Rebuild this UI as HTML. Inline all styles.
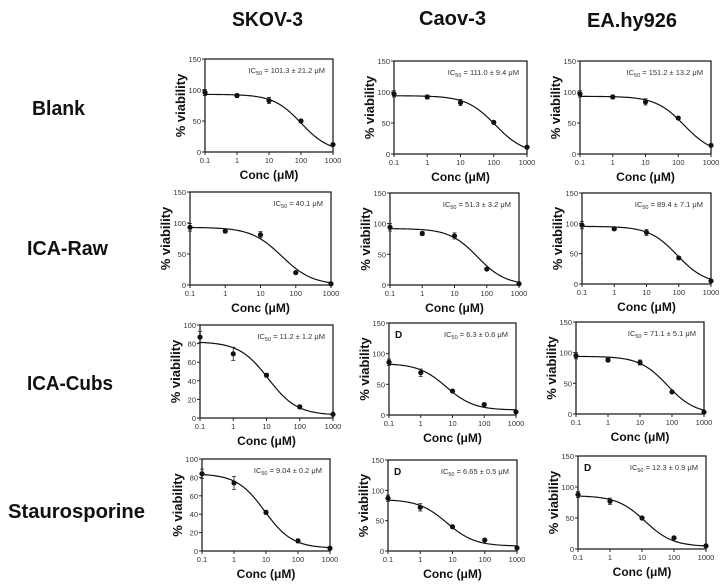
<!DOCTYPE html>
<html><head><meta charset="utf-8"><style>
body{margin:0;background:#fff;width:726px;height:585px;overflow:hidden;font-family:"Liberation Sans",sans-serif}
svg{display:block}
</style></head><body>
<svg id="fig" width="726" height="585" xmlns="http://www.w3.org/2000/svg" font-family="Liberation Sans, sans-serif">
<g font-size="20" font-weight="bold" fill="#111">
<text x="232" y="26" textLength="71" lengthAdjust="spacingAndGlyphs">SKOV-3</text>
<text x="419" y="25" textLength="67" lengthAdjust="spacingAndGlyphs">Caov-3</text>
<text x="587" y="27" textLength="90" lengthAdjust="spacingAndGlyphs">EA.hy926</text>
</g>
<g font-size="20" font-weight="bold" fill="#111">
<text x="32" y="115" textLength="53" lengthAdjust="spacingAndGlyphs">Blank</text>
<text x="27" y="255" textLength="81" lengthAdjust="spacingAndGlyphs">ICA-Raw</text>
<text x="27" y="390" textLength="86" lengthAdjust="spacingAndGlyphs">ICA-Cubs</text>
<text x="8" y="518" textLength="137" lengthAdjust="spacingAndGlyphs">Staurosporine</text>
</g>
<g id="panels"></g>
</svg>
<script>
// Data per panel (row-major: Blank, ICA-Raw, ICA-Cubs, Staurosporine x SKOV-3, Caov-3, EA.hy926)
const concentrations = [0.1, 1, 10, 100, 1000];
const xTickLabels = ["0.1", "1", "10", "100", "1000"];
const viability = [
  [96, 91, 83, 50, 12], [97, 92, 83, 51, 11], [97, 92, 84, 58, 14],
  [93, 87, 81, 20, 2],  [94, 84, 80, 26, 2],  [97, 91, 85, 43, 5],
  [87, 69, 46, 12, 4],  [86, 69, 39, 17, 5],  [95, 88, 84, 36, 3],
  [84, 74, 42, 11, 3],  [87, 72, 40, 18, 5],  [88, 77, 50, 18, 5]
];
const errors = [
  [5, 3, 5, 2, 2], [5, 3, 5, 2, 2], [5, 3, 5, 2, 2],
  [6, 3, 5, 2, 2], [6, 3, 5, 2, 2], [6, 3, 5, 2, 2],
  [6, 7, 2, 2, 1], [5, 6, 2, 2, 1], [5, 3, 4, 2, 1],
  [5, 7, 2, 2, 1], [5, 6, 2, 2, 1], [5, 5, 2, 2, 1]
];
const fitTop = [93, 94, 93, 93, 92, 95, 82, 84, 94, 84, 85, 86];
const fitBottom = [0, 0, 0, 0, 0, 0, 3, 8, 0, 3, 8, 4];
const fitIC50 = [101.3, 111.0, 151.2, 40.1, 51.3, 89.4, 11.2, 6.3, 71.1, 9.04, 6.65, 12.3];
const yMax = [150, 150, 150, 150, 150, 150, 100, 150, 150, 100, 150, 150];
const ic50Labels = ["101.3 ± 21.2  μM", "111.0 ± 9.4 μM", "151.2 ± 13.2  μM",
  "40.1 μM", "51.3 ± 3.2 μM", "89.4 ± 7.1 μM",
  "11.2 ± 1.2 μM", "6.3 ± 0.6 μM", "71.1 ± 5.1 μM",
  "9.04 ± 0.2 μM", "6.65 ± 0.5 μM", "12.3 ± 0.9 μM"];
const panelLetters = ["", "", "", "", "", "", "", "D", "", "", "D", "D"];
// layout boxes [x0,x1,y0,y1]
const boxes = [
  [205,333,59,152],[394,527,61,154],[580,711,61,154],
  [190,331,192,285],[390,519,193,285],[582,711,193,284],
  [200,333,325,418],[389,516,323,415],[576,704,322,414],
  [202,330,459,551],[388,517,460,551],[578,706,456,549]
];
const NS = "http://www.w3.org/2000/svg";
const root = document.getElementById('panels');
function mk(tag, attrs, parent){const e=document.createElementNS(NS,tag);for(const k in attrs)e.setAttribute(k,attrs[k]);parent.appendChild(e);return e;}
boxes.forEach((b, i) => {
  const [x0,x1,y0,y1] = b;
  const g = mk('g', {}, root);
  
  
  const xs = v => x0 + (Math.log10(v) + 1) / 4 * (x1 - x0);
  const ys = v => y1 - v / yMax[i] * (y1 - y0);
  const frame = mk('rect', {x:x0, y:y0, width:x1-x0, height:y1-y0, fill:'none', stroke:'#222', 'stroke-width':1.3}, g);
  
  
  const step = yMax[i] === 100 ? 20 : 50;
  for (let t = 0; t <= yMax[i]; t += step) {
    mk('line', {x1:x0-3, x2:x0, y1:ys(t), y2:ys(t), stroke:'#222'}, g);
    const tl = mk('text', {x:x0-4, y:ys(t)+3, 'font-size':7.5, 'text-anchor':'end', fill:'#333'}, g);
    tl.textContent = t;
    
    
  }
  concentrations.forEach((c, k) => {
    mk('line', {x1:xs(c), x2:xs(c), y1:y1, y2:y1+3, stroke:'#222'}, g);
    const tl = mk('text', {x:xs(c), y:y1+11, 'font-size':7.5, 'text-anchor':'middle', fill:'#333'}, g);
    tl.textContent = xTickLabels[k];
    
    
  });
  const xt = mk('text', {x:(x0+x1)/2, y:y1+27, 'font-size':12, 'font-weight':'bold', 'text-anchor':'middle', fill:'#111'}, g);
  xt.textContent = 'Conc (μM)';
  
  
  const cy = (y0+y1)/2, cx = x0 - 20;
  const yt = mk('text', {x:cx, y:cy, 'font-size':13, 'font-weight':'bold', 'text-anchor':'middle', fill:'#111', transform:`rotate(-90 ${cx} ${cy})`}, g);
  yt.textContent = '% viability';
  
  
  let d = '';
  for (let s = 0; s <= 80; s++) {
    const lx = -1 + 4 * s / 80, c = Math.pow(10, lx);
    const v = fitBottom[i] + (fitTop[i] - fitBottom[i]) / (1 + c / fitIC50[i]);
    d += (s ? 'L' : 'M') + xs(c).toFixed(2) + ',' + ys(v).toFixed(2);
  }
  const curve = mk('path', {d, fill:'none', stroke:'#111', 'stroke-width':1.2}, g);
  
  
  viability[i].forEach((v, k) => {
    const px = xs(concentrations[k]), e = errors[i][k];
    const eb = mk('path', {d:`M${px},${ys(v+e)}V${ys(v-e)}M${px-2},${ys(v+e)}h4M${px-2},${ys(v-e)}h4`, stroke:'#222', 'stroke-width':0.8, fill:'none'}, g);
    
    
    const p = mk('circle', {cx:px, cy:ys(v), r:2.6, fill:'#111'}, g);
    
    
  });
  const ic = mk('text', {x:x1-8, y:y0+14, 'font-size':7.5, 'text-anchor':'end', fill:'#333'}, g);
  ic.innerHTML = 'IC<tspan font-size="5.5" dy="2">50</tspan><tspan dy="-2"> = ' + ic50Labels[i] + '</tspan>';
  
  
  if (panelLetters[i]) {
    const L = mk('text', {x:x0+6, y:y0+15, 'font-size':10, 'font-weight':'bold', fill:'#111'}, g);
    L.textContent = panelLetters[i];
    
    
  }
});
</script>
</body></html>
